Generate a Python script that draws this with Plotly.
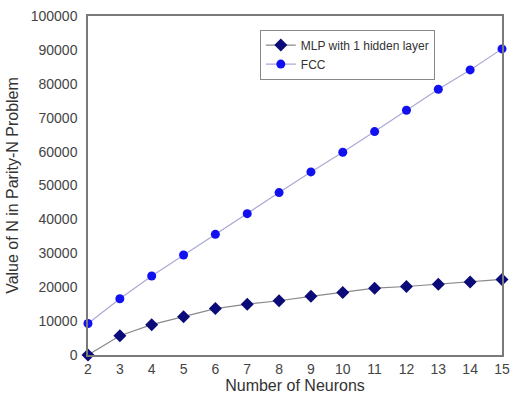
import plotly.graph_objects as go

neurons = [2, 3, 4, 5, 6, 7, 8, 9, 10, 11, 12, 13, 14, 15]
mlp_values = [0, 5700, 8950, 11300, 13700, 15000, 16000, 17300, 18400, 19700, 20200, 20900, 21500, 22300]
fcc_values = [9300, 16600, 23300, 29500, 35600, 41700, 47900, 54000, 59800, 65900, 72200, 78400, 84100, 90300]
y_ticks = [0, 10000, 20000, 30000, 40000, 50000, 60000, 70000, 80000, 90000, 100000]
y_tick_labels = [str(v) for v in y_ticks]

font_family = "Arial, Liberation Sans, sans-serif"

fig = go.Figure()
fig.add_trace(go.Scatter(
    x=neurons, y=mlp_values, mode="lines+markers", name="MLP with 1 hidden layer",
    line=dict(color="#8a8a8a", width=1.2),
    marker=dict(symbol="diamond", size=10, color="#0a0a78"),
    cliponaxis=False,
))
fig.add_trace(go.Scatter(
    x=neurons, y=fcc_values, mode="lines+markers", name="FCC",
    line=dict(color="#a9a9d6", width=1.2),
    marker=dict(symbol="circle", size=9, color="#1010f0"),
    cliponaxis=False,
))

axis_common = dict(
    showline=True, linecolor="#7a7a7a", linewidth=1.5, mirror=True,
    showgrid=False, zeroline=False, ticks="",
    tickfont=dict(family=font_family, size=14, color="#444444"),
)
fig.update_layout(
    width=516, height=398,
    margin=dict(l=88, r=6, t=16, b=43),
    paper_bgcolor="white", plot_bgcolor="white",
    font=dict(family=font_family, color="#333333"),
    xaxis=dict(range=[2, 15], tickvals=neurons, ticklabelstandoff=0,
               title=dict(text="Number of Neurons", font=dict(size=16, color="#333333"), standoff=0),
               **axis_common),
    yaxis=dict(range=[0, 100000], tickvals=y_ticks, ticktext=y_tick_labels, ticklabelstandoff=6,
               title=dict(text="Value of N in Parity-N Problem", font=dict(size=16, color="#333333"), standoff=8),
               **axis_common),
    legend=dict(x=0.415, y=0.96, xanchor="left", yanchor="top",
                bordercolor="#888888", borderwidth=1, bgcolor="white",
                font=dict(family=font_family, size=12, color="#333333"),
                itemwidth=30, tracegroupgap=0),
    showlegend=True,
)
fig.write_html("out.html", config={"displayModeBar": False},
               post_script="document.body.style.margin='0';")
